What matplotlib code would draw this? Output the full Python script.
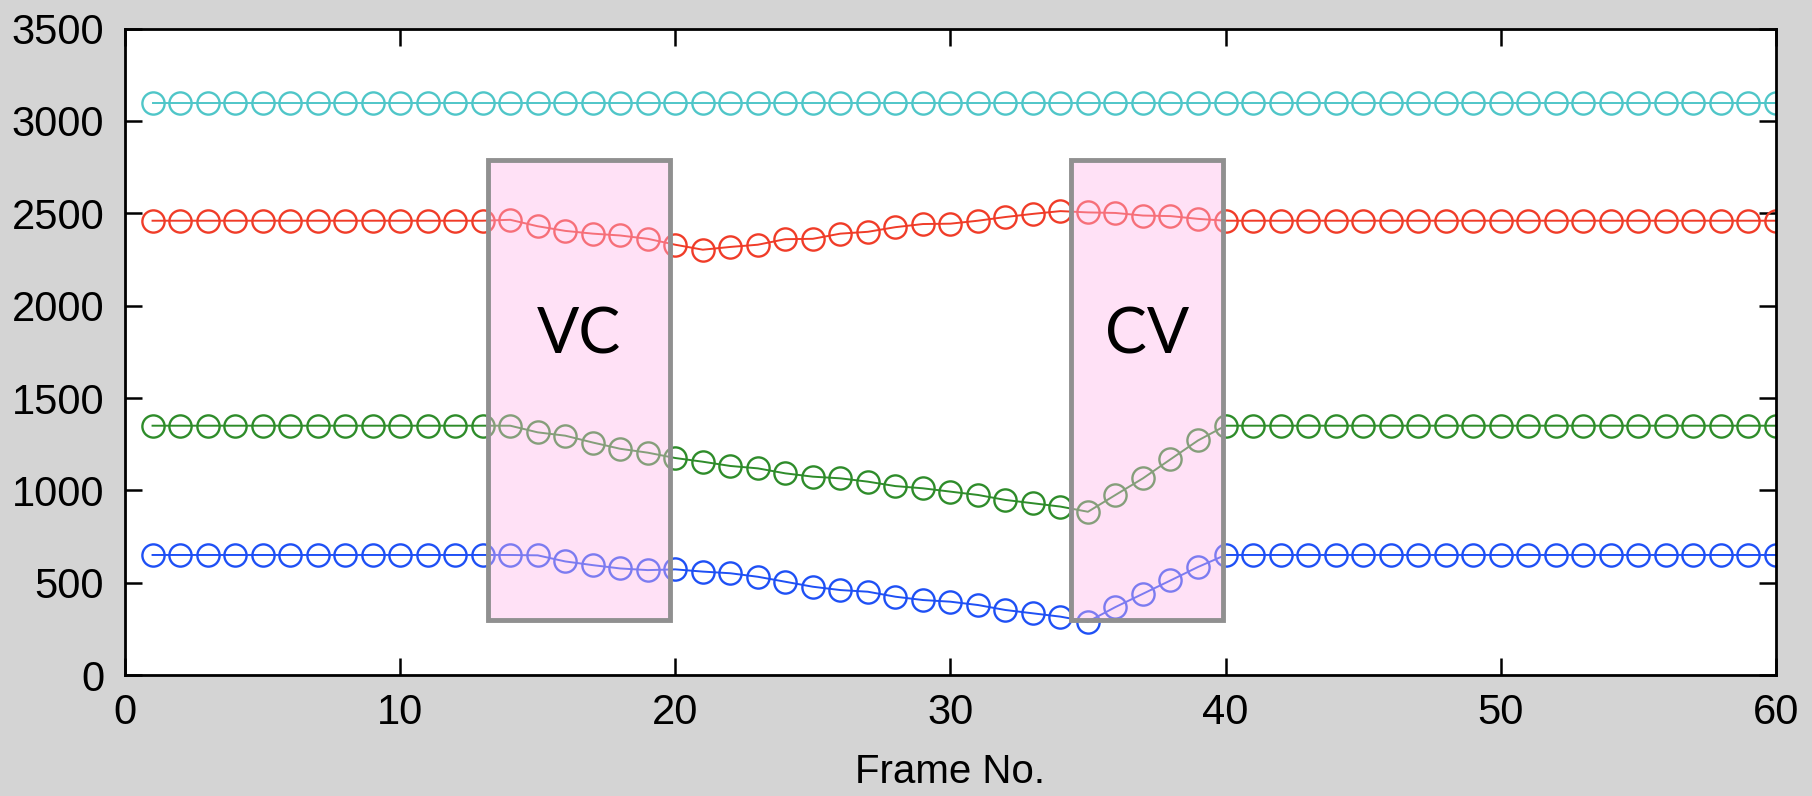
import matplotlib
matplotlib.use("Agg")
import matplotlib.pyplot as plt
from matplotlib.patches import Rectangle
import numpy as np

frames = np.arange(1, 61)

# formant tracks (frames 1..60)
f4 = [3100] * 60
f3 = ([2460] * 13
      + [2465, 2430, 2405, 2390, 2380, 2362, 2330, 2303, 2318, 2330, 2360, 2362,
         2390, 2400, 2425, 2442, 2444, 2460, 2480, 2497, 2512, 2505, 2502, 2488,
         2485, 2470]
      + [2460] * 21)
f2 = ([1350] * 13
      + [1350, 1314, 1296, 1259, 1225, 1204, 1175, 1155, 1132, 1119, 1092, 1074,
         1065, 1047, 1023, 1011, 993, 975, 948, 930, 912, 884, 975, 1065, 1168,
         1270]
      + [1350] * 21)
f1 = ([650] * 13
      + [650, 648, 615, 595, 577, 568, 572, 560, 551, 532, 505, 478, 460, 451,
         424, 406, 397, 379, 352, 334, 316, 289, 368, 440, 512, 585]
      + [650] * 21)

series = [f4, f3, f2, f1]
colors = ['#4fc6c8', '#f03c28', '#2e8c2a', '#1e50f5']

# transition regions
regions = [("VC", 13.2, 19.8), ("CV", 34.4, 39.9)]
region_low, region_high = 300, 2790

plt.rcParams['font.family'] = ['Liberation Sans Narrow', 'Liberation Sans', 'DejaVu Sans']

fig = plt.figure(figsize=(18.12, 7.96), dpi=100, facecolor='#d4d4d4')
ax = fig.add_axes([0.069, 0.152, 0.911, 0.812])

for vals, c in zip(series, colors):
    ax.plot(frames, vals, color=c, marker='o', fillstyle='none',
            markersize=16, markeredgewidth=1.7, linewidth=1.4)

for name, x0, x1 in regions:
    ax.add_patch(Rectangle((x0, region_low), x1 - x0, region_high - region_low,
                           facecolor=(1.0, 0.72, 0.92, 0.42),
                           edgecolor='#909090', linewidth=3.5, zorder=5))
    ax.text((x0 + x1) / 2, 1840, name, ha='center', va='center',
            fontsize=45, color='black', zorder=6, family=['Lato', 'DejaVu Sans'])

ax.set_xlim(0, 60)
ax.set_ylim(0, 3500)
ax.set_xticks(range(0, 61, 10))
ax.set_yticks(range(0, 3501, 500))
ax.tick_params(direction='in', length=12, width=1.8, labelsize=30,
               top=True, right=True)
ax.tick_params(axis='x', pad=13)
ax.tick_params(axis='y', pad=15)
for s in ax.spines.values():
    s.set_linewidth(2)
ax.set_xlabel('Frame No.', fontsize=29, labelpad=14)

fig.savefig('out.png', dpi=100, facecolor=fig.get_facecolor())
